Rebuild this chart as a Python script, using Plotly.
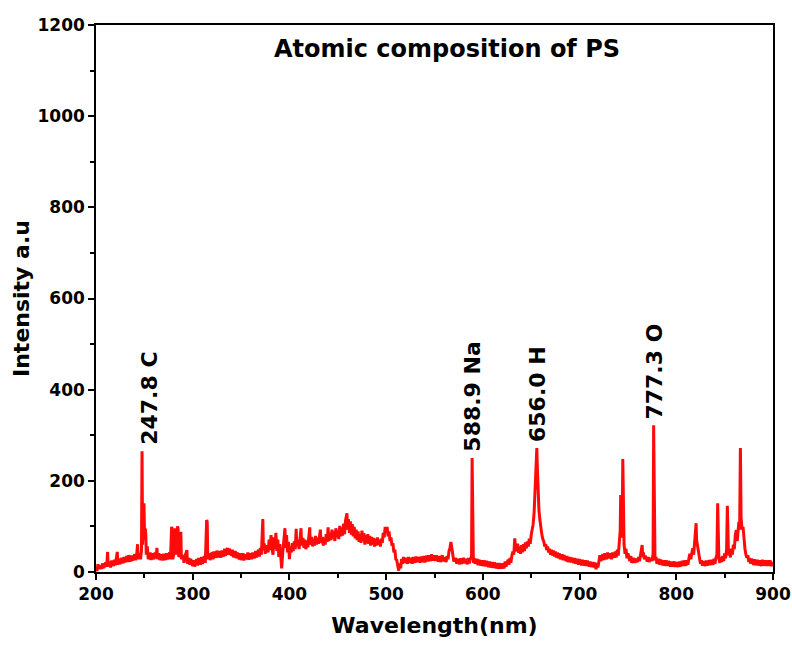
import plotly.graph_objects as go

# ---- spectrum (wavelength nm, intensity a.u.) ----
wavelength_nm = [
    200, 201, 202, 203, 204, 206, 207, 208, 210, 211, 212, 212.6, 214, 215, 216, 218, 219, 220, 222, 222.6,
    224, 225, 226, 228, 229, 230, 232, 233, 234, 236, 237, 238, 240, 241, 242, 243, 243.6, 245, 246, 247,
    247.6, 248.2, 249, 249.6, 250.3, 251, 251.5, 252, 253, 254, 256, 257, 258, 260, 261, 262, 263, 263.6, 265, 266,
    268, 269, 270, 272, 273, 274, 276, 277, 278.2, 278.8, 279.4, 281, 282, 282.6, 284.3, 284.9, 285.5, 287, 287.7, 288.3,
    290, 291, 292, 294, 294.6, 296, 297, 298, 300, 301, 302, 304, 305, 306, 308, 309, 310, 312, 313, 314.4,
    315, 315.6, 317, 318, 320, 321, 322, 324, 325, 326, 328, 329, 330, 332, 333, 334, 336, 337, 338, 340,
    341, 342, 344, 345, 346, 348, 349, 350, 352, 353, 354, 356, 357, 358, 360, 361, 362, 364, 365, 366,
    368, 369, 370, 371, 372.5, 373.1, 374, 375, 376, 378, 379, 380, 381, 382, 383, 384, 385, 386, 387, 388,
    389, 390, 391, 392, 393, 394, 395.4, 396, 397, 398, 399, 400, 401, 402, 403, 404, 405, 406, 407, 407.6,
    409, 410, 411, 412, 412.6, 414, 415, 416, 417, 418, 419, 420, 421, 421.6, 423, 424, 425, 426, 427, 428,
    429, 430, 431, 432, 432.6, 434, 435, 436, 437, 438, 439, 440, 440.6, 442, 443, 444, 445, 446, 447, 448,
    449, 450, 451, 452, 453, 454, 455, 456, 457, 458, 459.5, 460, 461, 462, 463, 464, 465, 466, 467, 468,
    469, 470, 471, 472, 473, 474, 475, 476, 477, 478, 479, 480, 481, 482, 483, 484, 485, 486, 487, 488,
    489, 490, 491, 492, 493, 494, 495, 496, 497, 498, 499, 500, 501, 502, 503, 504, 505, 506, 507, 508,
    509, 510, 511, 512, 513, 514, 515, 516, 517, 518, 519, 520, 522, 523, 524, 526, 527, 528, 530, 531,
    532, 534, 535, 536, 538, 539, 540, 542, 543, 544, 546, 547, 548, 550, 551, 552, 554, 555, 556, 558,
    559, 560, 562, 563, 564, 565, 566, 567, 568, 569, 570, 572, 573, 574, 576, 577, 578, 580, 581, 582,
    584, 585, 586, 587, 588.3, 588.9, 589.5, 590.2, 591, 592, 594, 595, 596, 598, 599, 600, 602, 603, 604, 606,
    607, 608, 610, 611, 612, 614, 615, 616, 618, 619, 620, 622, 623, 624, 626, 627, 628, 629, 630, 631,
    632, 633, 634, 635, 636, 637, 638, 639, 640, 641, 642, 643, 644, 645, 646, 647, 648, 649, 650, 651,
    652, 653, 654, 655, 655.8, 656.5, 657, 658, 659, 660, 661, 662, 663, 664, 665, 666, 667, 668, 669, 670,
    671, 672, 673, 674, 675, 676, 677, 678, 679, 680, 682, 683, 684, 686, 687, 688, 690, 691, 692, 694,
    695, 696, 698, 699, 700, 702, 703, 704, 706, 707, 708, 710, 711, 712, 714, 715, 716, 717, 718, 719,
    720, 721, 722, 724, 725, 726, 728, 729, 730, 732, 733, 734, 736, 737, 738, 739, 740, 741, 742, 742.5,
    743, 744, 744.7, 745.3, 746, 747, 748, 749, 750, 752, 753, 754, 756, 757, 758, 760, 761, 762, 763, 764,
    764.7, 765.3, 766, 767, 768, 770, 771, 772, 774, 775, 776, 776.6, 777.3, 778, 779, 780, 782, 783, 784, 786,
    787, 788, 790, 791, 792, 794, 795, 796, 798, 799, 800, 802, 803, 804, 806, 807, 808, 810, 811, 812,
    813, 814, 815, 816, 817, 818, 819, 820.5, 821, 822, 823, 824, 825, 826, 827, 828, 830, 831, 832, 834,
    835, 836, 838, 839, 840, 841, 842, 842.8, 843.5, 844, 845, 846, 847, 848, 849, 850, 851, 852, 852.8, 853.5,
    854, 855, 856, 857, 858, 859, 860, 861, 862, 863, 864, 864.7, 865.5, 866.3, 867, 868, 869, 870, 871, 872,
    873, 874, 875, 876, 877, 878, 880, 881, 882, 884, 885, 886, 888, 889, 890, 892, 893, 894, 896, 897,
    898, 900,
]
intensity_au = [
    10, 2, 17, 6, 15, 7, 19, 9, 21, 11, 44, 12, 23, 10, 25, 13, 27, 15, 44, 16,
    29, 17, 31, 19, 33, 21, 35, 22, 37, 23, 36, 25, 39, 26, 37, 61, 28, 41, 28, 46,
    265, 60, 120, 151, 70, 95, 81, 38, 56, 28, 43, 26, 41, 28, 43, 30, 53, 28, 41, 26,
    39, 25, 40, 26, 41, 28, 43, 28, 99, 95, 28, 45, 96, 38, 100, 96, 33, 41, 88, 28,
    37, 20, 35, 48, 18, 31, 16, 29, 13, 26, 12, 28, 14, 31, 16, 33, 18, 35, 20, 114,
    110, 28, 41, 26, 43, 28, 45, 31, 47, 32, 46, 31, 47, 34, 51, 36, 53, 38, 51, 36,
    49, 32, 46, 30, 43, 28, 41, 26, 41, 25, 39, 28, 43, 27, 41, 28, 43, 30, 46, 32,
    49, 34, 53, 38, 116, 48, 63, 40, 59, 43, 71, 48, 81, 53, 38, 76, 50, 86, 46, 71,
    33, 61, 20, 8, 41, 71, 96, 53, 81, 43, 66, 28, 56, 43, 63, 46, 67, 50, 95, 56,
    71, 50, 73, 96, 58, 75, 53, 71, 50, 69, 54, 76, 98, 60, 77, 56, 73, 58, 79, 60,
    75, 62, 81, 93, 64, 77, 58, 75, 60, 83, 66, 98, 68, 86, 70, 93, 74, 89, 68, 96,
    76, 91, 72, 101, 78, 97, 80, 106, 83, 113, 129, 93, 116, 86, 111, 82, 105, 78, 99, 74,
    93, 70, 89, 66, 83, 64, 91, 68, 85, 60, 81, 63, 83, 62, 79, 58, 77, 60, 75, 56,
    73, 58, 76, 60, 71, 56, 73, 64, 86, 76, 99, 86, 99, 78, 89, 68, 76, 58, 63, 43,
    49, 28, 26, 10, 3, 19, 8, 29, 18, 33, 20, 31, 18, 33, 20, 31, 18, 33, 20, 34,
    22, 33, 20, 34, 22, 35, 21, 36, 23, 37, 24, 39, 25, 37, 24, 36, 23, 35, 22, 37,
    23, 33, 22, 35, 28, 46, 53, 66, 48, 39, 23, 31, 18, 29, 17, 30, 18, 31, 19, 29,
    17, 31, 19, 29, 33, 250, 28, 20, 31, 18, 29, 15, 27, 14, 26, 13, 25, 12, 24, 11,
    23, 10, 22, 9, 21, 8, 20, 7, 19, 7, 19, 8, 23, 12, 27, 16, 31, 20, 36, 45,
    38, 74, 48, 49, 62, 42, 56, 40, 59, 43, 61, 46, 65, 52, 67, 56, 73, 62, 81, 90,
    105, 130, 175, 230, 272, 220, 170, 135, 114, 95, 82, 72, 67, 56, 61, 48, 56, 43, 51, 38,
    49, 36, 47, 34, 45, 32, 43, 30, 41, 28, 39, 26, 37, 24, 35, 22, 33, 21, 31, 20,
    31, 18, 29, 16, 28, 15, 27, 14, 26, 13, 25, 12, 23, 11, 22, 10, 21, 6, 19, 10,
    29, 37, 24, 39, 26, 41, 28, 43, 30, 41, 28, 43, 31, 45, 32, 49, 36, 60, 90, 169,
    120, 75, 248, 80, 60, 40, 51, 30, 41, 24, 35, 20, 31, 20, 29, 22, 33, 24, 39, 48,
    59, 33, 43, 28, 36, 23, 33, 22, 31, 24, 40, 322, 60, 26, 33, 18, 29, 16, 27, 15,
    26, 14, 25, 13, 24, 12, 23, 12, 23, 11, 22, 11, 23, 12, 24, 13, 25, 14, 26, 16,
    29, 40, 28, 46, 52, 38, 60, 107, 70, 55, 38, 31, 18, 26, 14, 24, 13, 25, 14, 26,
    15, 27, 16, 29, 18, 31, 38, 151, 38, 31, 20, 33, 22, 35, 24, 41, 30, 50, 145, 43,
    37, 45, 32, 51, 38, 60, 50, 80, 92, 68, 100, 110, 93, 272, 120, 93, 99, 68, 51, 38,
    31, 37, 22, 31, 18, 29, 16, 28, 15, 27, 14, 26, 13, 27, 14, 26, 13, 25, 14, 26,
    13, 22,
]

# ---- emission line labels ----
line_labels = ["247.8 C", "588.9 Na", "656.0 H", "777.3 O"]
line_wavelengths = [256.0, 588.9, 656.0, 777.3]
line_peaks = [265, 250, 272, 322]

x_ticks = [200, 300, 400, 500, 600, 700, 800, 900]
y_ticks = [0, 200, 400, 600, 800, 1000, 1200]

FONT = "DejaVu Sans"

fig = go.Figure()
fig.add_trace(go.Scatter(
    x=wavelength_nm, y=intensity_au, mode="lines",
    line=dict(color="#ff0a0a", width=3), showlegend=False,
))

for lab, wl, pk in zip(line_labels, line_wavelengths, line_peaks):
    fig.add_annotation(
        x=wl, y=pk, text=lab, textangle=-90, showarrow=False,
        xanchor="center", yanchor="bottom", yshift=4,
        font=dict(family=FONT, size=22, color="black", weight="bold"),
    )

fig.add_annotation(
    x=0.518, y=0.956, xref="paper", yref="paper", text="Atomic composition of PS",
    showarrow=False, xanchor="center", yanchor="middle",
    font=dict(family=FONT, size=24, color="black", weight="bold"),
)

axis_common = dict(
    showline=True, linecolor="black", linewidth=1.5, mirror=True,
    ticks="outside", ticklen=6, tickwidth=1.5, tickcolor="black",
    showgrid=False, zeroline=False, automargin=False,
    tickfont=dict(family=FONT, size=17, color="black", weight="bold"),
)

fig.update_xaxes(
    range=[200, 900], tickvals=x_ticks,
    minor=dict(ticks="outside", ticklen=4, tickwidth=1.5, tickcolor="black", dtick=50, showgrid=False),
    title=dict(text="Wavelength(nm)", standoff=14,
               font=dict(family=FONT, size=22, color="black", weight="bold")),
    **axis_common,
)
fig.update_yaxes(
    range=[0, 1200], tickvals=y_ticks,
    minor=dict(ticks="outside", ticklen=4, tickwidth=1.5, tickcolor="black", dtick=100, showgrid=False),
    title=dict(text="Intensity a.u", standoff=2,
               font=dict(family=FONT, size=22, color="black", weight="bold")),
    **axis_common,
)

fig.update_layout(
    width=792, height=645,
    margin=dict(l=96, r=19, t=25, b=73),
    paper_bgcolor="white", plot_bgcolor="white",
)

fig.write_html("out.html")
